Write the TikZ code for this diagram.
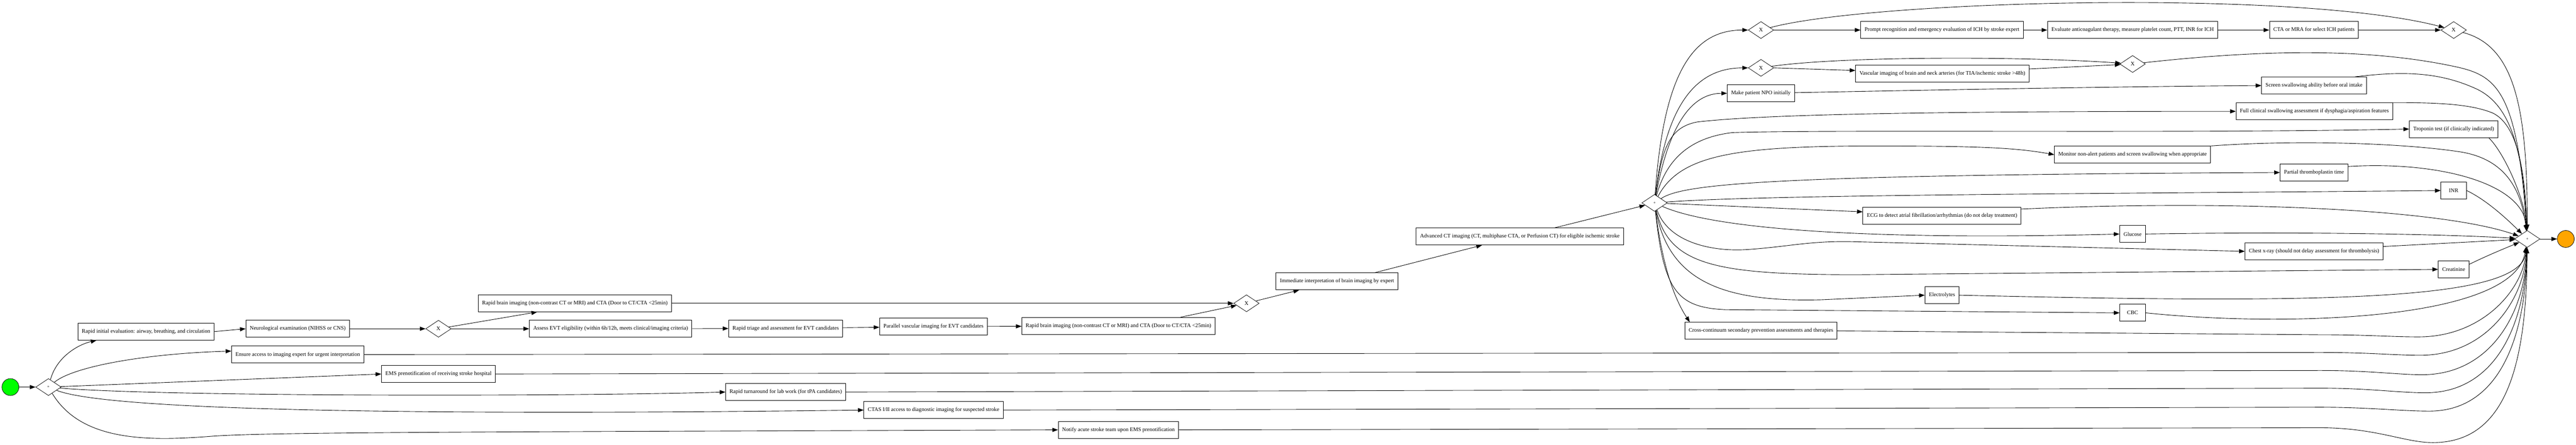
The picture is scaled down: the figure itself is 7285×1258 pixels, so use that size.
\documentclass[tikz,border=0pt]{standalone}
\usepackage{fontspec}
\setmainfont{Liberation Serif}
\usetikzlibrary{shapes.geometric,arrows.meta}
\definecolor{startgreen}{HTML}{00FF00}
\definecolor{endorange}{HTML}{FFA500}

\begin{document}
\begin{tikzpicture}[x=0.5pt, y=-0.5pt,
    every node/.style={font=\fontsize{7.75}{9}\selectfont},
    task/.style={draw, rectangle, line width=0.7pt, minimum height=24pt, minimum width=36pt, inner xsep=5.5pt, inner ysep=0pt},
    gate/.style={draw, diamond, line width=0.55pt, minimum width=36pt, minimum height=24pt, inner sep=0pt},
    plus/.style={gate, font=\fontsize{6}{7}\selectfont},
    event/.style={draw, circle, line width=0.55pt, minimum size=24pt, inner sep=0pt},
    flow/.style={line width=0.65pt, -{Triangle[length=8pt,width=5.8pt]}}]

    \useasboundingbox (0,0) rectangle (7285,1258);

    % start and first split
    \node[event, fill=startgreen] (start) at (29.5,1095) {};
    \node[plus] (p1) at (137,1095) {+};

    \node[task] (init) at (413,938) {Rapid initial evaluation: airway, breathing, and circulation};
    \node[task] (neuro) at (842,930) {Neurological examination (NIHSS or CNS)};
    \node[task] (ensure) at (842,1003) {Ensure access to imaging expert for urgent interpretation};
    \node[task] (ems) at (1240,1058) {EMS prenotification of receiving stroke hospital};
    \node[gate] (g1) at (1240,930) {X};
    \node[task] (b1) at (1626,858) {Rapid brain imaging (non-contrast CT or MRI) and CTA (Door to CT/CTA <25min)};
    \node[task] (assess) at (1727,930) {Assess EVT eligibility (within 6h/12h, meets clinical/imaging criteria)};
    \node[task] (triage) at (2222,929) {Rapid triage and assessment for EVT candidates};
    \node[task] (turn) at (2222,1109) {Rapid turnaround for lab work (for tPA candidates)};
    \node[task] (parallel) at (2640,924) {Parallel vascular imaging for EVT candidates};
    \node[task] (ctas) at (2640,1160) {CTAS I/II access to diagnostic imaging for suspected stroke};
    \node[task] (b2) at (3163,922) {Rapid brain imaging (non-contrast CT or MRI) and CTA (Door to CT/CTA <25min)};
    \node[task] (notify) at (3163,1216) {Notify acute stroke team upon EMS prenotification};
    \node[gate] (g2) at (3525,858) {X};
    \node[task] (imm) at (3781,796) {Immediate interpretation of brain imaging by expert};
    \node[task] (adv) at (4298,669) {Advanced CT imaging (CT, multiphase CTA, or Perfusion CT) for eligible ischemic stroke};

    % second split
    \node[plus] (p2) at (4679,574) {+};
    \node[gate] (g3) at (4980,85) {X};
    \node[gate] (g4) at (4980,192) {X};
    \node[task] (npo) at (4980,264) {Make patient NPO initially};
    \node[task] (cross) at (4980,936) {Cross-continuum secondary prevention assessments and therapies};
    \node[task] (prompt) at (5492,85) {Prompt recognition and emergency evaluation of ICH by stroke expert};
    \node[task] (vasc) at (5493,208) {Vascular imaging of brain and neck arteries (for TIA/ischemic stroke >48h)};
    \node[task] (ecg) at (5492,611) {ECG to detect atrial fibrillation/arrhythmias (do not delay treatment)};
    \node[task] (elec) at (5492,835) {Electrolytes};
    \node[task] (eval) at (6031,85) {Evaluate anticoagulant therapy, measure platelet count, PTT, INR for ICH};
    \node[gate] (g6) at (6031,181) {X};
    \node[task] (monitor) at (6031,437.5) {Monitor non-alert patients and screen swallowing when appropriate};
    \node[task] (glucose) at (6031,662) {Glucose};
    \node[task] (cbc) at (6031,885) {CBC};
    \node[task] (cta) at (6544,85) {CTA or MRA for select ICH patients};
    \node[task] (screen) at (6544,242) {Screen swallowing ability before oral intake};
    \node[task] (full) at (6545,315) {Full clinical swallowing assessment if dysphagia/aspiration features};
    \node[task] (ptt) at (6544,488) {Partial thromboplastin time};
    \node[task] (chest) at (6544,711) {Chest x-ray (should not delay assessment for thrombolysis)};
    \node[gate] (g5) at (6939,85) {X};
    \node[task] (trop) at (6939,365) {Troponin test (if clinically indicated)};
    \node[task] (inr) at (6939,539) {INR};
    \node[task] (creat) at (6939,762) {Creatinine};

    % join and end
    \node[plus] (p3) at (7147,676) {+};
    \node[event, fill=endorange] (finish) at (7256,676) {};

    % first part
    \draw[flow] (start) -- (p1);
    \draw[flow] (p1) .. controls (160,1010) and (220,975) .. (init.-170);
    \draw[flow] (p1) .. controls (210,1035) and (420,1000) .. (ensure.177);
    \draw[flow] (p1) -- (ems.west);
    \draw[flow] (p1) .. controls (450,1122) and (1600,1122) .. (turn.west);
    \draw[flow] (p1) .. controls (330,1172) and (1500,1172) .. (ctas.west);
    \draw[flow] (p1) .. controls (230,1250) and (420,1248) .. (600,1234) .. controls (760,1222) and (1400,1222) .. (notify.west);
    \draw[flow] (init.east) -- (neuro.west);
    \draw[flow] (neuro) -- (g1);
    \draw[flow] (g1) -- (b1.-167);
    \draw[flow] (g1) -- (assess);
    \draw[flow] (assess) -- (triage);
    \draw[flow] (triage) -- (parallel);
    \draw[flow] (parallel) -- (b2);
    \draw[flow] (b1) -- (g2);
    \draw[flow] (b2.8) -- (g2);
    \draw[flow] (g2) -- (imm.-167);
    \draw[flow] (imm.13) -- (adv.-167);
    \draw[flow] (adv.14) -- (p2);

    % out of the second split
    \draw[flow] (p2) .. controls (4705,200) and (4790,85) .. (g3);
    \draw[flow] (p2) .. controls (4712,290) and (4800,192) .. (g4);
    \draw[flow] (p2) .. controls (4722,340) and (4790,264) .. (npo);
    \draw[flow] (p2) .. controls (4700,420) and (4720,360) .. (4800,345) .. controls (5000,322) and (5500,315) .. (full.west);
    \draw[flow] (p2) .. controls (4710,460) and (4770,390) .. (4900,375) .. controls (5200,366) and (6200,378) .. (trop.west);
    \draw[flow] (p2) .. controls (4750,440) and (4900,413) .. (5300,413) .. controls (5600,413) and (5700,418) .. (monitor.west);
    \draw[flow] (p2) .. controls (4760,520) and (5000,495) .. (ptt.west);
    \draw[flow] (p2) .. controls (5000,550) and (6000,548) .. (inr.west);
    \draw[flow] (p2) -- (ecg.177);
    \draw[flow] (p2) .. controls (4850,650) and (5300,680) .. (glucose.west);
    \draw[flow] (p2) .. controls (4720,690) and (4850,712) .. (4940,706) .. controls (5060,698) and (5120,680) .. (5250,684) -- (chest.west);
    \draw[flow] (p2) .. controls (4720,750) and (4850,777) .. (5250,777) -- (creat.west);
    \draw[flow] (p2) .. controls (4720,800) and (4880,855) .. (5150,848) -- (elec.west);
    \draw[flow] (p2) .. controls (4705,820) and (4740,870) .. (4880,876) -- (cbc.west);
    \draw[flow] (p2) .. controls (4705,780) and (4745,860) .. (cross.173);

    % upper branches
    \draw[flow] (g3) -- (prompt);
    \draw[flow] (g3) .. controls (5300,0) and (6500,-30) .. (g5);
    \draw[flow] (prompt) -- (eval);
    \draw[flow] (eval) -- (cta);
    \draw[flow] (cta) -- (g5);
    \draw[flow] (g4.east) -- (vasc.178);
    \draw[flow] (g4) .. controls (5200,160) and (5700,158) .. (g6);
    \draw[flow] (vasc.3) -- (g6);
    \draw[flow] (npo) .. controls (5600,252) and (6000,245) .. (screen.west);

    % into the join
    \draw[flow] (g5) .. controls (7110,130) and (7148,300) .. (p3);
    \draw[flow] (g6) .. controls (6400,140) and (6700,135) .. (6950,190) .. controls (7060,215) and (7120,260) .. (p3);
    \draw[flow] (screen.12) .. controls (6800,200) and (6900,205) .. (7000,250) .. controls (7090,290) and (7135,400) .. (p3);
    \draw[flow] (full.north east) .. controls (6900,290) and (6990,295) .. (7050,320) .. controls (7110,350) and (7140,450) .. (p3);
    \draw[flow] (trop.-14) .. controls (7080,430) and (7140,560) .. (p3);
    \draw[flow] (monitor.north east) .. controls (6500,395) and (6800,405) .. (6960,430) .. controls (7080,450) and (7130,530) .. (p3);
    \draw[flow] (ptt.10) .. controls (6900,455) and (7135,520) .. (p3);
    \draw[flow] (inr.east) .. controls (7030,565) and (7085,615) .. (p3);
    \draw[flow] (ecg.5) .. controls (6300,565) and (6900,590) .. (p3);
    \draw[flow] (glucose.east) .. controls (6500,655) and (6900,662) .. (p3);
    \draw[flow] (chest.4) -- (p3);
    \draw[flow] (creat.18) .. controls (7040,720) and (7090,700) .. (p3);
    \draw[flow] (elec.east) .. controls (6600,860) and (7130,850) .. (p3);
    \draw[flow] (cbc.east) .. controls (6450,925) and (7110,910) .. (p3);
    \draw[flow] (cross.east) -- (6560,947) .. controls (6700,947) and (6760,953) .. (6840,953) .. controls (7020,953) and (7135,820) .. (p3);
    \draw[flow] (ensure.east) -- (6560,997) .. controls (6700,997) and (6770,1005) .. (6845,1005) .. controls (7030,1005) and (7138,850) .. (p3);
    \draw[flow] (ems.east) -- (6560,1048) .. controls (6700,1048) and (6780,1060) .. (6850,1060) .. controls (7040,1060) and (7140,890) .. (p3);
    \draw[flow] (turn.east) -- (6560,1098) .. controls (6700,1098) and (6780,1111) .. (6860,1111) .. controls (7050,1111) and (7140,930) .. (p3);
    \draw[flow] (ctas.east) -- (6560,1152) .. controls (6700,1152) and (6790,1163) .. (6870,1163) .. controls (7060,1163) and (7142,970) .. (p3);
    \draw[flow] (notify.east) -- (6560,1210) .. controls (6720,1210) and (6800,1252) .. (6880,1252) .. controls (7080,1252) and (7145,1050) .. (p3);
    \draw[flow] (p3) -- (finish);

\end{tikzpicture}
\end{document}
